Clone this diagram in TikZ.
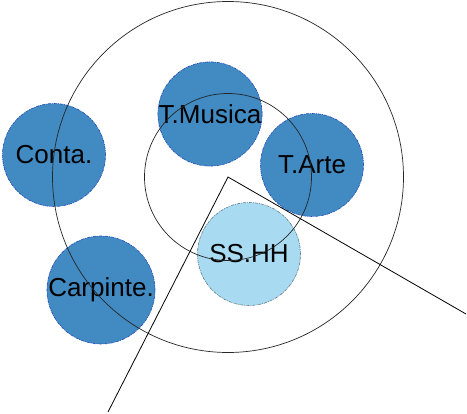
\documentclass[tikz,border=0pt]{standalone}
\usepackage{fontspec}
\setmainfont{Liberation Sans}
\usepackage{xcolor}

\definecolor{areablue}{RGB}{65,138,194}
\definecolor{areaedge}{RGB}{35,75,185}
\definecolor{skyfill}{RGB}{168,218,242}
\definecolor{skyedge}{RGB}{95,125,140}

\begin{document}
\begin{tikzpicture}[
    x=1pt, y=-1pt,
    area/.style={
        circle,
        fill=areablue,
        draw=areaedge,
        line width=0.6pt,
        dash pattern=on 3pt off 1pt on 1pt off 1pt,
        minimum size=103pt,
        inner sep=0pt,
        font=\fontsize{26}{29}\selectfont
    },
    skyarea/.style={
        area,
        fill=skyfill,
        draw=skyedge
    },
    ring/.style={
        circle,
        draw=black!85,
        line width=0.7pt,
        inner sep=0pt
    }
]
\useasboundingbox (0,0) rectangle (467,414);

\node[area] (conta) at (54,155) {Conta.};
\node[area] (musica) at (210,114) {T.Musica};
\node[area] (arte) at (312,165) {T.Arte};
\node[skyarea] (sshh) at (249,254) {SS.HH};
\node[area] (carp) at (101,290) {Carpinte.};

\node[ring, minimum size=351pt] (outer) at (228,177) {};
\node[ring, minimum size=167pt] (inner) at (228,177) {};

\coordinate (apex) at (outer.center);
\coordinate (southend) at (108,412);
\coordinate (eastend) at (466,314);

\draw[line width=0.8pt] (southend) -- (apex) -- (eastend);

\end{tikzpicture}
\end{document}
